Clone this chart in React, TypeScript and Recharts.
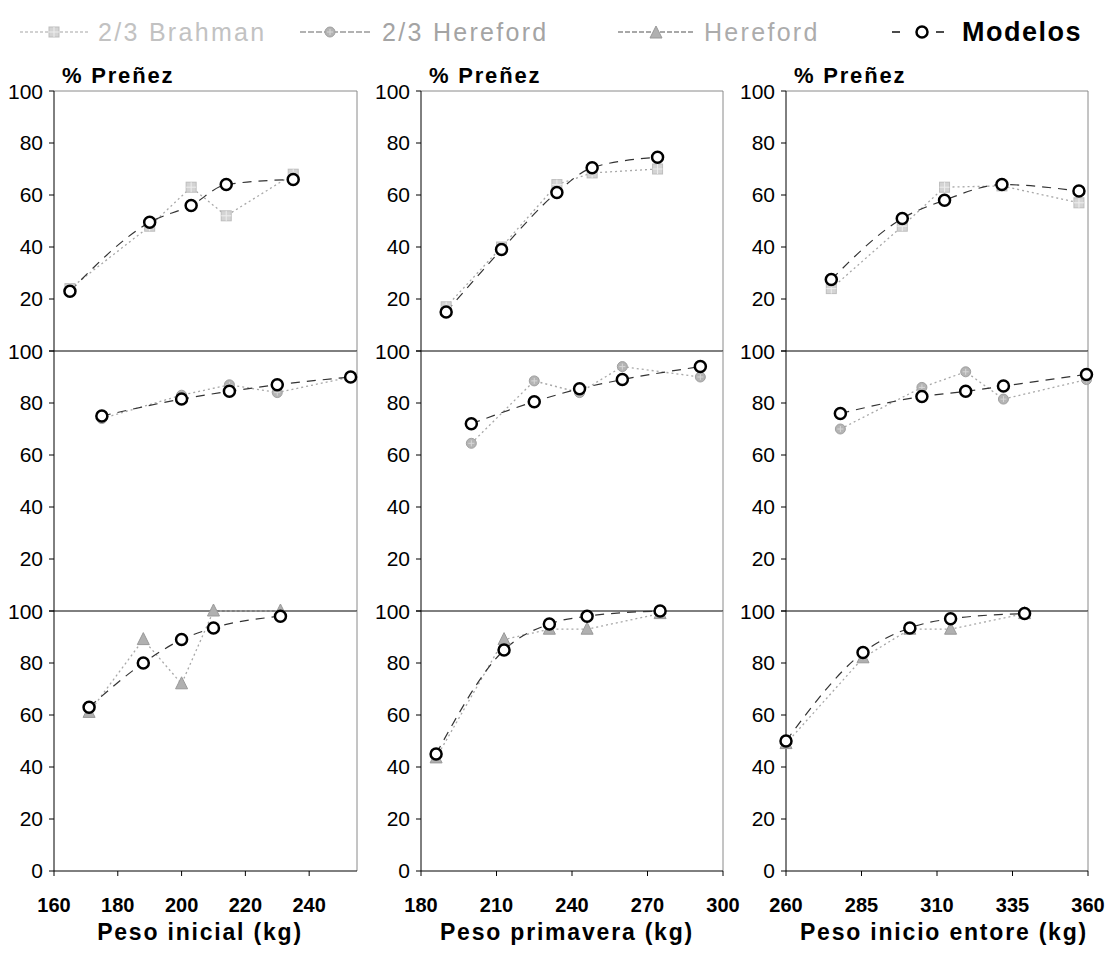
import React from 'react';
import { LineChart, Line, XAxis, YAxis, ReferenceLine } from 'recharts';

// ── Data ─────────────────────────────────────────────────────────────────────
// Peso inicial (kg)
const inicialBrahmanX = [165, 190, 203, 214, 235];
const inicialBrahmanObs = [24, 48, 63, 52, 68];
const inicialBrahmanMod = [23, 49.5, 56, 64, 66];
const inicialCruzaX = [175, 200, 215, 230, 253];
const inicialCruzaObs = [74, 83, 87, 84, 90];
const inicialCruzaMod = [75, 81.5, 84.5, 87, 90];
const inicialHerefordX = [171, 188, 200, 210, 231];
const inicialHerefordObs = [61, 89, 72, 100, 100];
const inicialHerefordMod = [63, 80, 89, 93.5, 98];

// Peso primavera (kg)
const primaveraBrahmanX = [190, 212, 234, 248, 274];
const primaveraBrahmanObs = [17, 40, 64, 68.5, 70];
const primaveraBrahmanMod = [15, 39, 61, 70.5, 74.5];
const primaveraCruzaX = [200, 225, 243, 260, 291];
const primaveraCruzaObs = [64.5, 88.5, 84, 94, 90];
const primaveraCruzaMod = [72, 80.5, 85.5, 89, 94];
const primaveraHerefordX = [186, 213, 231, 246, 275];
const primaveraHerefordObs = [43.5, 89, 93, 93, 99];
const primaveraHerefordMod = [45, 85, 95, 98, 100];

// Peso inicio entore (kg)
const entoreBrahmanX = [275, 298.5, 312.5, 331.5, 357];
const entoreBrahmanObs = [24, 48, 63, 63.5, 57];
const entoreBrahmanMod = [27.5, 51, 58, 64, 61.5];
const entoreCruzaX = [278, 305, 319.5, 332, 359.5];
const entoreCruzaObs = [70, 86, 92, 81.5, 89];
const entoreCruzaMod = [76, 82.5, 84.5, 86.5, 91];
const entoreHerefordX = [260, 285.5, 301, 314.5, 339];
const entoreHerefordObs = [49, 82, 93, 93, 99];
const entoreHerefordMod = [50, 84, 93.5, 97, 99];

const inicialTicks = [160, 180, 200, 220, 240];
const primaveraTicks = [180, 210, 240, 270, 300];
const entoreTicks = [260, 285, 310, 335, 360];
const pctTicks = [0, 20, 40, 60, 80, 100];

// ── Layout ───────────────────────────────────────────────────────────────────
const COLS = [
  { left: 54, width: 303, domain: [160, 255], ticks: inicialTicks, title: 'Peso inicial (kg)', center: 200 },
  { left: 421, width: 302, domain: [180, 300], ticks: primaveraTicks, title: 'Peso primavera (kg)', center: 567 },
  { left: 786, width: 302, domain: [260, 360], ticks: entoreTicks, title: 'Peso inicio entore (kg)', center: 944 },
];
const ROW_TOPS = [91, 351, 611];
const ROW_H = 260;
const YAW = 70;
const TOPM = 12;
const RIGHTM = 24;

const FONT = '"Liberation Sans", Arial, sans-serif';

function rows(xs: number[], obs: number[], mod: number[]) {
  return xs.map((x, i) => ({ x, obs: obs[i], mod: mod[i] }));
}

const PANELS = [
  [rows(inicialBrahmanX, inicialBrahmanObs, inicialBrahmanMod), rows(primaveraBrahmanX, primaveraBrahmanObs, primaveraBrahmanMod), rows(entoreBrahmanX, entoreBrahmanObs, entoreBrahmanMod)],
  [rows(inicialCruzaX, inicialCruzaObs, inicialCruzaMod), rows(primaveraCruzaX, primaveraCruzaObs, primaveraCruzaMod), rows(entoreCruzaX, entoreCruzaObs, entoreCruzaMod)],
  [rows(inicialHerefordX, inicialHerefordObs, inicialHerefordMod), rows(primaveraHerefordX, primaveraHerefordObs, primaveraHerefordMod), rows(entoreHerefordX, entoreHerefordObs, entoreHerefordMod)],
];

// ── Markers ──────────────────────────────────────────────────────────────────
function SquareMark({ cx, cy }: { cx: number; cy: number }) {
  return (
    <g>
      <rect x={cx - 5} y={cy - 5} width={10} height={10} fill="#d4d4d4" stroke="#bdbdbd" />
      <path d={`M${cx - 5} ${cy} H${cx + 5} M${cx} ${cy - 5} V${cy + 5}`} stroke="#eee" strokeWidth={1} />
    </g>
  );
}

function CircleMark({ cx, cy }: { cx: number; cy: number }) {
  return (
    <g>
      <circle cx={cx} cy={cy} r={5} fill="#b4b4b4" stroke="#a0a0a0" />
      <path d={`M${cx - 3} ${cy} H${cx + 3} M${cx} ${cy - 3} V${cy + 3}`} stroke="#d8d8d8" strokeWidth={1} />
    </g>
  );
}

function TriangleMark({ cx, cy }: { cx: number; cy: number }) {
  return <path d={`M${cx} ${cy - 7} L${cx + 6} ${cy + 5} L${cx - 6} ${cy + 5} Z`} fill="#b0b0b0" stroke="#999" />;
}

const MARKS = [SquareMark, CircleMark, TriangleMark];

function ModelMark({ cx, cy }: { cx: number; cy: number }) {
  return <circle cx={cx} cy={cy} r={5.5} fill="#fff" stroke="#000" strokeWidth={2.5} />;
}

// ── Panel ────────────────────────────────────────────────────────────────────
function Panel({ row, col }: { row: number; col: number }) {
  const c = COLS[col];
  const Mark = MARKS[row];
  const last = row === 2;
  const xh = last ? 50 : 12;
  return (
    <div style={{ position: 'absolute', left: c.left - YAW, top: ROW_TOPS[row] - TOPM }}>
      <LineChart
        width={YAW + c.width + RIGHTM}
        height={TOPM + ROW_H + xh}
        data={PANELS[row][col]}
        margin={{ top: TOPM, right: RIGHTM, bottom: 0, left: 0 }}
      >
        {row === 0 && <ReferenceLine y={100} stroke="#8a8a8a" />}
        <ReferenceLine x={c.domain[1]} stroke="#8a8a8a" />
        <XAxis
          type="number"
          dataKey="x"
          domain={c.domain}
          ticks={c.ticks}
          height={xh}
          axisLine={{ stroke: '#000' }}
          tickLine={{ stroke: '#000' }}
          tickSize={5}
          tickMargin={22}
          tick={last ? { fontSize: 20, fontWeight: 'bold', fill: '#000', fontFamily: FONT } : false}
        />
        <YAxis
          type="number"
          domain={[0, 100]}
          ticks={pctTicks}
          width={YAW}
          axisLine={{ stroke: '#000' }}
          tickLine={{ stroke: '#000' }}
          tickSize={5}
          tickMargin={6}
          tick={{ fontSize: 21, fill: '#000', fontFamily: FONT }}
          tickFormatter={(v) => (v === 0 && !last ? '' : String(v))}
        />
        <Line
          dataKey="obs"
          type="linear"
          stroke="#a8a8a8"
          strokeWidth={1.3}
          strokeDasharray="2 3"
          isAnimationActive={false}
          dot={(p: any) => <Mark key={p.index} cx={p.cx} cy={p.cy} />}
        />
        <Line
          dataKey="mod"
          type="monotone"
          stroke="#333"
          strokeWidth={1.2}
          strokeDasharray="9 7"
          isAnimationActive={false}
          dot={(p: any) => <ModelMark key={p.index} cx={p.cx} cy={p.cy} />}
        />
      </LineChart>
    </div>
  );
}

// ── Legend ───────────────────────────────────────────────────────────────────
function LegendItem({ left, lineW, color, dash, mark, label, textColor, bold, size }: any) {
  return (
    <div style={{ position: 'absolute', left, top: 17, display: 'flex', alignItems: 'center', height: 30 }}>
      <svg width={lineW} height={24}>
        <line x1={0} y1={12} x2={lineW} y2={12} stroke={color} strokeWidth={1.5} strokeDasharray={dash} />
        {mark}
      </svg>
      <span style={{ marginLeft: 10, fontSize: size || 25, color: textColor, fontWeight: bold ? 'bold' : 'normal', letterSpacing: bold ? 1.5 : 2.3 }}>
        {label}
      </span>
    </div>
  );
}

export default function App() {
  const cells = [];
  for (let r = 0; r < 3; r++) for (let c = 0; c < 3; c++) cells.push(<Panel key={`${r}-${c}`} row={r} col={c} />);
  return (
    <div style={{ position: 'absolute', left: 0, top: 0, width: 1112, height: 954, background: '#fff', fontFamily: FONT, color: '#000' }}>
      <LegendItem left={20} lineW={68} color="#c4c4c4" dash="3 2" mark={<SquareMark cx={34} cy={12} />} label="2/3 Brahman" textColor="#c2c2c2" />
      <LegendItem left={300} lineW={72} color="#999" dash="6 2" mark={<CircleMark cx={30} cy={12} />} label="2/3 Hereford" textColor="#a4a4a4" />
      <LegendItem left={618} lineW={76} color="#8c8c8c" dash="5 2" mark={<TriangleMark cx={38} cy={13} />} label="Hereford" textColor="#acacac" />
      <LegendItem left={892} lineW={60} color="#111" dash="8 36" mark={<ModelMark cx={30} cy={12} />} label="Modelos" textColor="#000" bold size={27} />

      {COLS.map((c, i) => (
        <div key={`t${i}`} style={{ position: 'absolute', left: c.left + 8, top: 64, fontSize: 22, fontWeight: 'bold', lineHeight: '24px', letterSpacing: 1.8 }}>
          % Preñez
        </div>
      ))}

      {cells}

      {COLS.map((c, i) => (
        <div
          key={`x${i}`}
          style={{ position: 'absolute', left: c.center - 160, width: 320, top: 920, textAlign: 'center', fontSize: 23, fontWeight: 'bold', lineHeight: '24px', letterSpacing: 1.8 }}
        >
          {c.title}
        </div>
      ))}
    </div>
  );
}
